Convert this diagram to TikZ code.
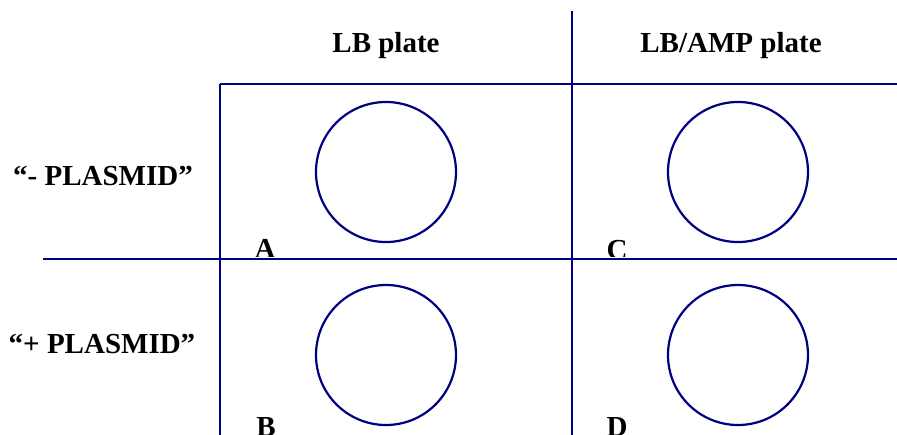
\documentclass[tikz,border=0pt]{standalone}
\usepackage{fontspec}
\setmainfont{Liberation Serif}
\definecolor{navy}{RGB}{0,0,128}
\begin{document}
\begin{tikzpicture}[x=1pt,y=-1pt,
  grid/.style={draw=navy,line width=2.2pt},
  plate/.style={draw=navy,line width=2.2pt,circle,minimum size=140pt,inner sep=0pt},
  lbl/.style={font=\fontsize{29}{32}\selectfont\bfseries,anchor=base,inner sep=0pt}]
\useasboundingbox (0,0) rectangle (897,434);
% grid
\coordinate (v1t) at (220,84);
\coordinate (v1b) at (220,440);
\coordinate (v2t) at (572,11);
\coordinate (v2b) at (572,440);
\coordinate (h1l) at (220,84);
\coordinate (h1r) at (900,84);
\coordinate (h2l) at (43,259);
\coordinate (h2r) at (900,259);
\draw[grid] (v1t) -- (v1b);
\draw[grid] (v2t) -- (v2b);
\draw[grid] (h1l) -- (h1r);
\draw[grid] (h2l) -- (h2r);
% plates
\node[plate] (pa) at (386,172) {};
\node[plate] (pc) at (738,172) {};
\node[plate] (pb) at (386,355) {};
\node[plate] (pd) at (738,355) {};
% headings
\node[lbl] (lb) at (386,52) {LB plate};
\node[lbl] (lbamp) at (731,52) {LB/AMP plate};
\node[lbl] (minus) at (103,185) {“- PLASMID”};
\node[lbl] (plus) at (102,353) {“+ PLASMID”};
% corner letters
\begin{scope}
\clip (0,0) rectangle (897,256);
\node[lbl] (la) at (265,258) {A};
\node[lbl] (lc) at (617,259) {C};
\end{scope}
\node[lbl] (lbb) at (266,436) {B};
\node[lbl] (ld) at (617,436) {D};
\end{tikzpicture}
\end{document}
